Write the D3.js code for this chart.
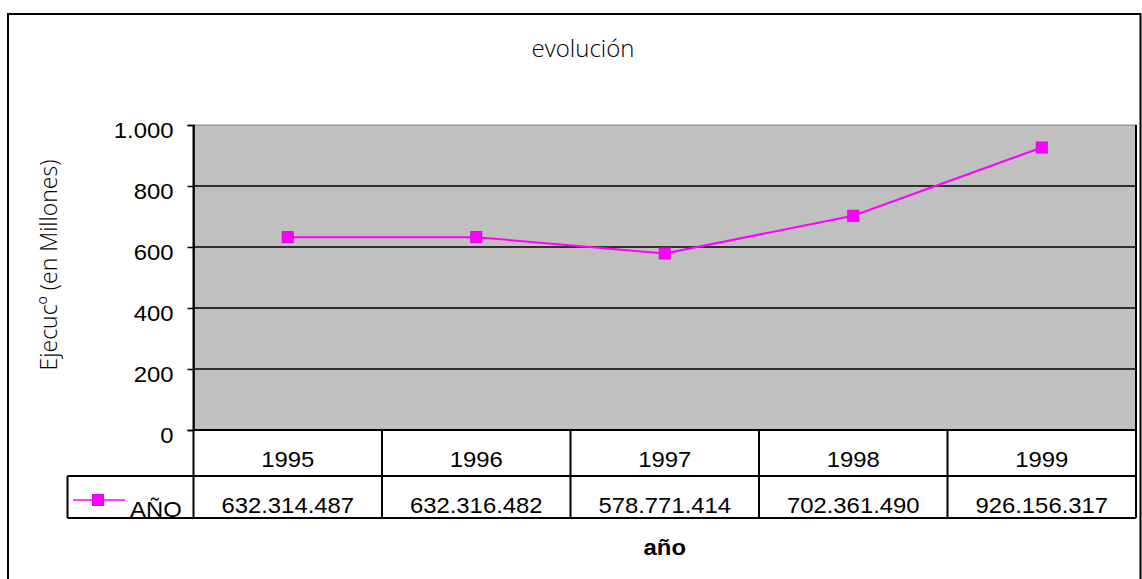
<!DOCTYPE html>
<html>
<head>
<meta charset="utf-8">
<script src="https://cdn.jsdelivr.net/npm/d3@7"></script>
<style>
  body { margin: 0; background: #fff; }
  svg { display: block; font-family: "Liberation Sans", Arial, sans-serif; }
</style>
</head>
<body>
<script>
// chart data
const years = ['1995', '1996', '1997', '1998', '1999']
const values = [632.314487, 632.316482, 578.771414, 702.361490, 926.156317]
const valueLabels = ['632.314.487', '632.316.482', '578.771.414', '702.361.490', '926.156.317']
const yTicks = [0, 200, 400, 600, 800, 1000]
const seriesName = 'AÑO'

const config = {
  width: 1142,
  height: 579,
  left: 193.5,
  right: 1136,
  top: 125,
  bottom: 430,
  rowH: 46,
  row2H: 42,
  legendLeft: 67.5,
  plotColor: '#c0c0c0',
  lineColor: '#ff00ff',
  fontSize: 21.5,
  stretch: 1.11
}

const svg = d3.select('body').append('svg')
  .attr('width', config.width)
  .attr('height', config.height)

// text drawn a bit wider than Liberation Sans, like the original
const wideText = (sel, xf, yf) => sel
  .attr('transform', (d, i) => `translate(${xf(d, i)},${yf(d, i)}) scale(${config.stretch},1)`)
  .attr('font-size', config.fontSize)
  .attr('fill', '#000')

// outer frame
svg.append('rect')
  .attr('x', 8).attr('y', 14)
  .attr('width', 1132.5).attr('height', 600)
  .attr('fill', 'none').attr('stroke', '#000').attr('stroke-width', 2)

const x = d3.scaleBand().domain(years).range([config.left, config.right])
const y = d3.scaleLinear().domain([0, 1000]).range([config.bottom, config.top])

// plot background
svg.append('rect')
  .attr('x', config.left).attr('y', config.top)
  .attr('width', config.right - config.left)
  .attr('height', config.bottom - config.top)
  .attr('fill', config.plotColor)
  .attr('stroke', '#808080').attr('stroke-width', 1)

// gridlines
svg.append('g').selectAll('line')
  .data(yTicks.slice(1, -1)).enter().append('line')
  .attr('x1', config.left).attr('x2', config.right)
  .attr('y1', d => y(d)).attr('y2', d => y(d))
  .attr('stroke', '#000').attr('stroke-width', 1.5)

// y axis
const yAxis = svg.append('g')
  .attr('transform', `translate(${config.left},0)`)
  .call(d3.axisLeft(y).tickValues(yTicks).tickSize(6)
    .tickFormat(d => d3.format(',')(d).replace(/,/g, '.')))
yAxis.select('.domain').attr('stroke', '#000').attr('stroke-width', 1.5)
yAxis.selectAll('.tick line').attr('stroke', '#000').attr('stroke-width', 1.5)
yAxis.selectAll('text')
  .attr('x', 0).attr('dy', '0.58em')
  .attr('transform', `translate(-20,0) scale(${config.stretch},1)`)
  .attr('font-size', config.fontSize).attr('fill', '#000')
  .attr('font-family', '"Liberation Sans", Arial, sans-serif')

// data table
const tbl = svg.append('g').attr('stroke', '#000').attr('stroke-width', 2).attr('fill', 'none')
const row2Top = config.bottom + config.rowH
const row2Bot = row2Top + config.row2H
tbl.append('line').attr('x1', config.left).attr('x2', config.right)
  .attr('y1', config.bottom).attr('y2', config.bottom)
tbl.append('line').attr('x1', config.legendLeft).attr('x2', config.right)
  .attr('y1', row2Top).attr('y2', row2Top)
tbl.append('line').attr('x1', config.legendLeft).attr('x2', config.right)
  .attr('y1', row2Bot).attr('y2', row2Bot)
tbl.append('line').attr('x1', config.legendLeft).attr('x2', config.legendLeft)
  .attr('y1', row2Top).attr('y2', row2Bot)
tbl.selectAll('.sep').data(years).enter().append('line')
  .attr('x1', d => x(d)).attr('x2', d => x(d))
  .attr('y1', (d, i) => i === 0 ? config.top : config.bottom)
  .attr('y2', row2Bot)
tbl.append('line').attr('x1', config.right).attr('x2', config.right)
  .attr('y1', config.top).attr('y2', row2Bot)

svg.append('g').selectAll('text')
  .data(years).enter().append('text')
  .call(wideText, d => x(d) + x.bandwidth() / 2, () => config.bottom + 36.5)
  .attr('text-anchor', 'middle')
  .text(d => d)

svg.append('g').selectAll('text')
  .data(valueLabels).enter().append('text')
  .call(wideText, (d, i) => x(years[i]) + x.bandwidth() / 2, () => row2Top + 36.5)
  .attr('text-anchor', 'middle')
  .text(d => d)

// legend key
const ly = 500
svg.append('line').attr('x1', 73).attr('x2', 125).attr('y1', ly).attr('y2', ly)
  .attr('stroke', config.lineColor).attr('stroke-width', 1.5)
svg.append('rect').attr('x', 92.5).attr('y', ly - 5.5).attr('width', 11).attr('height', 11)
  .attr('fill', config.lineColor).attr('stroke', '#e000e0').attr('stroke-width', 1)
svg.append('text')
  .datum(seriesName)
  .call(wideText, () => 130, () => row2Bot - 1.5)
  .text(d => d)

// series line
const line = d3.line()
  .x((d, i) => x(years[i]) + x.bandwidth() / 2)
  .y(d => y(d))
svg.append('path').datum(values)
  .attr('d', line)
  .attr('fill', 'none').attr('stroke', config.lineColor).attr('stroke-width', 2)
svg.append('g').selectAll('rect')
  .data(values).enter().append('rect')
  .attr('x', (d, i) => x(years[i]) + x.bandwidth() / 2 - 5.5)
  .attr('y', d => y(d) - 5.5)
  .attr('width', 11).attr('height', 11)
  .attr('fill', config.lineColor).attr('stroke', '#e000e0').attr('stroke-width', 1)

// titles
svg.append('text').attr('x', 583).attr('y', 57)
  .attr('text-anchor', 'middle').attr('font-size', 24).attr('fill', '#000')
  .attr('font-family', '"Open Sans", "Liberation Sans", sans-serif').attr('font-weight', 300)
  .text('evolución')
svg.append('text')
  .attr('transform', 'translate(57,265) rotate(-90)')
  .attr('text-anchor', 'middle').attr('font-size', 23).attr('fill', '#000')
  .attr('font-family', '"Open Sans", "Liberation Sans", sans-serif').attr('font-weight', 300)
  .text('Ejecucº (en Millones)')
svg.append('text')
  .datum('año')
  .call(wideText, () => (config.left + config.right) / 2, () => 555)
  .attr('text-anchor', 'middle').attr('font-weight', 'bold')
  .text(d => d)
</script>
</body>
</html>
